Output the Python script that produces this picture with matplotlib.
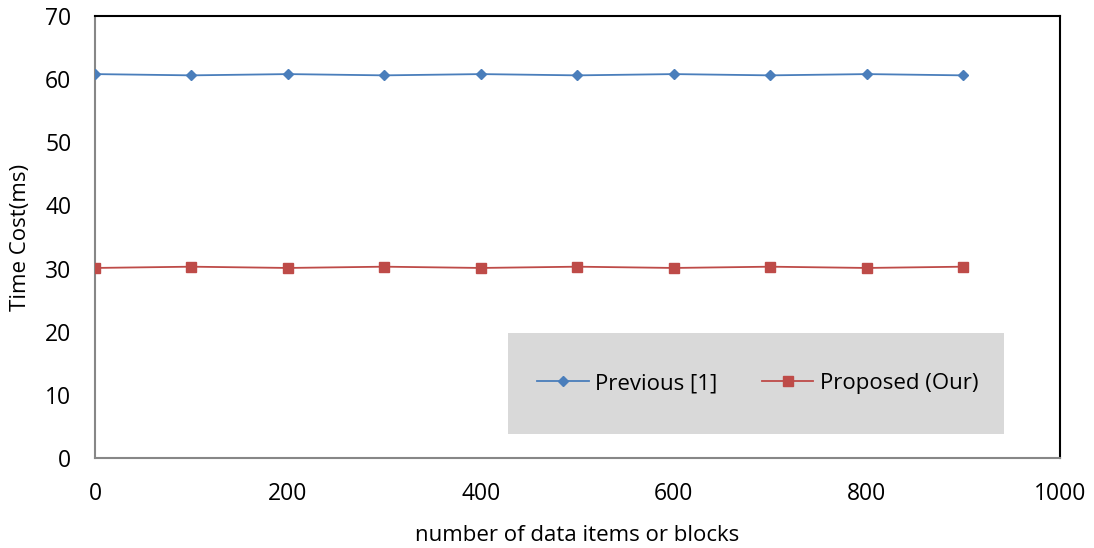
import matplotlib.pyplot as plt
from matplotlib.patches import Rectangle

plt.rcParams['font.family'] = ['Open Sans', 'DejaVu Sans']

data_items = [0, 100, 200, 300, 400, 500, 600, 700, 800, 900]
previous_ms = [60.8, 60.6, 60.8, 60.6, 60.8, 60.6, 60.8, 60.6, 60.8, 60.6]
proposed_ms = [30.1, 30.3, 30.1, 30.3, 30.1, 30.3, 30.1, 30.3, 30.1, 30.3]

fig = plt.figure(figsize=(10.94, 5.48), dpi=100)
ax = fig.add_axes([0.0868, 0.1642, 0.882, 0.8066])

ax.plot(data_items, previous_ms, color='#4A7EBB', lw=1.3, marker='D',
        markersize=5.5, label='Previous [1]', zorder=3)
ax.plot(data_items, proposed_ms, color='#BE4B48', lw=1.3, marker='s',
        markersize=6.5, label='Proposed (Our)', zorder=3)

ax.set_xlim(0, 1000)
ax.set_ylim(0, 70)
ax.set_xticks(range(0, 1001, 200))
ax.set_yticks(range(0, 71, 10))
ax.tick_params(length=0, labelsize=16.5)
ax.tick_params(axis='x', pad=17)
ax.tick_params(axis='y', pad=17)

for side in ['left', 'bottom']:
    ax.spines[side].set_color('#878787')
    ax.spines[side].set_linewidth(1.5)
for side in ['top', 'right']:
    ax.spines[side].set_color('black')
    ax.spines[side].set_linewidth(1.5)

ax.set_xlabel('number of data items or blocks', fontsize=16, labelpad=14)
ax.set_ylabel('Time Cost(ms)', fontsize=16, labelpad=10)

# grey legend panel
ax.add_patch(Rectangle((0.428, 0.054), 0.514, 0.2285, transform=ax.transAxes,
                       facecolor='#D9D9D9', edgecolor='none', zorder=4))
leg = ax.legend(loc='center', bbox_to_anchor=(0.687, 0.168), ncol=2,
                frameon=False, fontsize=16, handlelength=2.3,
                columnspacing=2.0, handletextpad=0.3)
leg.set_zorder(5)

fig.savefig('out.png', dpi=100)
